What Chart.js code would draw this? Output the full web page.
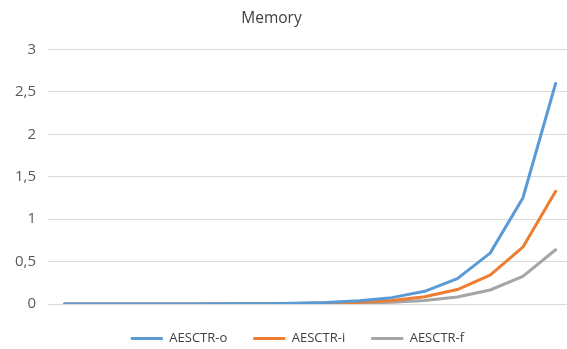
<!DOCTYPE html>
<html>
<head>
<meta charset="utf-8">
<script src="https://cdn.jsdelivr.net/npm/chart.js@4/dist/chart.umd.min.js"></script>
<style>
  html, body { margin: 0; padding: 0; background: #fff; overflow: hidden; }
  #wrap { width: 567px; height: 349px; overflow: hidden; }
</style>
</head>
<body>
<div id="wrap"><canvas id="c" width="572" height="349"></canvas></div>
<script>
// Sixteen measurement steps along the horizontal axis (unlabelled)
const categories = ['1','2','3','4','5','6','7','8','9','10','11','12','13','14','15','16'];

const seriesNames = ['AESCTR-o', 'AESCTR-i', 'AESCTR-f'];

const aesctrO = [0.0001, 0.0002, 0.0003, 0.0005, 0.001, 0.002, 0.004, 0.008, 0.018, 0.037, 0.075, 0.15, 0.3, 0.6, 1.25, 2.6];
const aesctrI = [0.0001, 0.0001, 0.0002, 0.0003, 0.0005, 0.001, 0.002, 0.005, 0.011, 0.021, 0.042, 0.085, 0.17, 0.34, 0.67, 1.33];
const aesctrF = [0.0001, 0.0001, 0.0001, 0.0002, 0.0003, 0.0005, 0.001, 0.0025, 0.005, 0.01, 0.02, 0.041, 0.082, 0.165, 0.325, 0.64];

const yTicks = [0, 0.5, 1, 1.5, 2, 2.5, 3];

const colors = ['#5B9BD5', '#ED7D31', '#A5A5A5'];
const seriesValues = [aesctrO, aesctrI, aesctrF];

const FONT = '"Open Sans", sans-serif';

// Fine placement of the title and legend blocks after layout
const blockPlacement = {
  id: 'blockPlacement',
  beforeInit(chart) {
    const legend = chart.legend;
    if (legend) {
      const fit = legend.fit.bind(legend);
      legend.fit = function () { fit(); this.height -= 4; };
    }
  },
  afterLayout(chart) {
    const t = chart.titleBlock;
    if (t) { t.left -= 16; t.right -= 16; }
    const l = chart.legend;
    if (l) { l.left += 10; l.right += 10; l.top += 2; l.bottom += 2; }
  }
};

new Chart(document.getElementById('c'), {
  type: 'line',
  data: {
    labels: categories,
    datasets: seriesNames.map((name, i) => ({
      label: name,
      data: seriesValues[i],
      borderColor: colors[i],
      backgroundColor: colors[i],
      borderWidth: 3,
      pointRadius: 0,
      pointHoverRadius: 0,
      tension: 0,
      fill: false,
      borderCapStyle: 'round',
      borderJoinStyle: 'round'
    }))
  },
  plugins: [blockPlacement],
  options: {
    responsive: false,
    animation: false,
    devicePixelRatio: 1,
    layout: { padding: { left: 3, right: 0, top: 9, bottom: 0 } },
    plugins: {
      title: {
        display: true,
        text: 'Memory',
        color: '#404040',
        font: { family: FONT, size: 15.5, weight: 'normal' },
        padding: { top: 0, bottom: 22 }
      },
      legend: {
        position: 'bottom',
        labels: {
          color: '#404040',
          font: { family: FONT, size: 13 },
          usePointStyle: true,
          pointStyle: 'line',
          pointStyleWidth: 32,
          boxHeight: 3,
          boxWidth: 30,
          padding: 26
        }
      },
      tooltip: { enabled: false }
    },
    scales: {
      x: {
        type: 'category',
        display: false,
        offset: true,
        grid: { display: false }
      },
      y: {
        min: 0,
        max: 3,
        afterBuildTicks: (axis) => { axis.ticks = yTicks.map(v => ({ value: v })); },
        grid: { color: '#D9D9D9', lineWidth: 1, drawTicks: false },
        border: { display: false },
        ticks: {
          color: '#595959',
          padding: 12,
          font: { family: FONT, size: 15 },
          callback: (v) => String(v).replace('.', ',')
        }
      }
    }
  }
});
</script>
</body>
</html>
